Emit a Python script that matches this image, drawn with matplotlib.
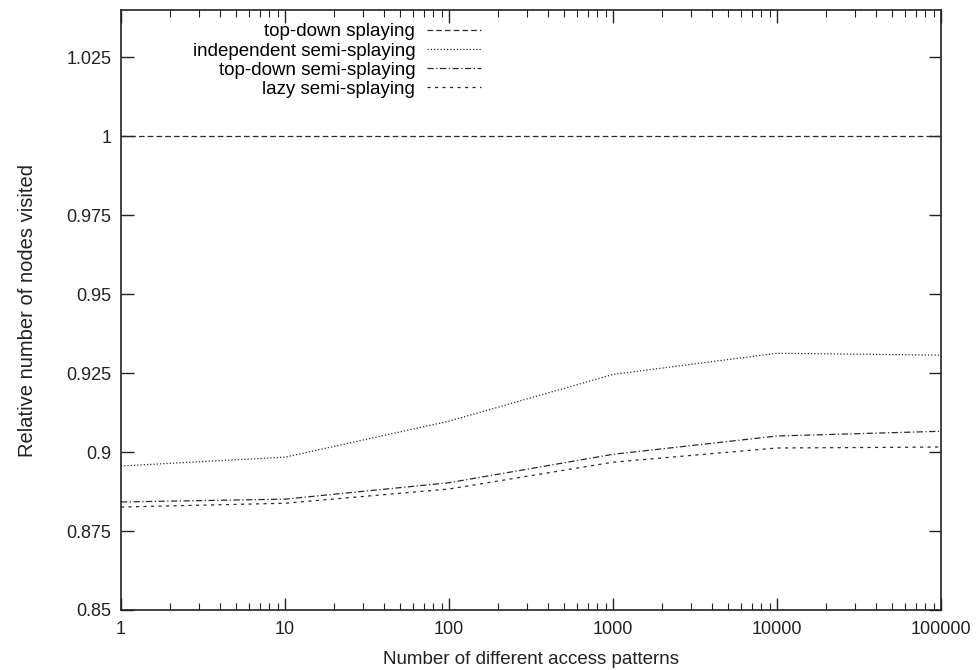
import matplotlib

matplotlib.use("Agg")
import matplotlib.pyplot as plt
from matplotlib.ticker import FixedLocator, LogLocator, NullFormatter

# Number of different access patterns (log axis)
patterns = [1, 10, 100, 1000, 10000, 100000]

# Nodes visited, relative to top-down splaying
top_down_splaying = [1.0, 1.0, 1.0, 1.0, 1.0, 1.0]
independent_semi = [0.8956, 0.8984, 0.9098, 0.9246, 0.9313, 0.9307]
top_down_semi = [0.8842, 0.8851, 0.8903, 0.8993, 0.9051, 0.9066]
lazy_semi = [0.8826, 0.8838, 0.8883, 0.8968, 0.9013, 0.9016]

y_ticks = [0.85, 0.875, 0.9, 0.925, 0.95, 0.975, 1.0, 1.025]
y_tick_labels = ["0.85", "0.875", "0.9", "0.925", "0.95", "0.975", "1", "1.025"]
x_tick_labels = ["1", "10", "100", "1000", "10000", "100000"]

plt.rcParams["font.family"] = ["Liberation Sans", "DejaVu Sans"]
plt.rcParams["font.size"] = 13.5

fig = plt.figure(figsize=(9.79, 6.70), dpi=100)
ax = fig.add_axes([0.1236, 0.0896, 0.8376, 0.8954])

line_color = "#2a2a2a"
ax.plot(patterns, top_down_splaying, color=line_color, lw=0.9,
        linestyle=(0, (4.5, 2.5)), label="top-down splaying")
ax.plot(patterns, independent_semi, color=line_color, lw=0.9,
        linestyle=(0, (1, 1.6)), label="independent semi-splaying")
ax.plot(patterns, top_down_semi, color=line_color, lw=0.9,
        linestyle=(0, (5, 2, 1, 2)), label="top-down semi-splaying")
ax.plot(patterns, lazy_semi, color=line_color, lw=0.9,
        linestyle=(0, (2.5, 3.5)), label="lazy semi-splaying")

ax.set_xscale("log")
ax.set_xlim(1, 100000)
ax.set_ylim(0.85, 1.04)

ax.xaxis.set_major_locator(FixedLocator(patterns))
ax.set_xticklabels(x_tick_labels)
ax.xaxis.set_minor_locator(LogLocator(base=10, subs=range(2, 10)))
ax.xaxis.set_minor_formatter(NullFormatter())
ax.set_yticks(y_ticks)
ax.set_yticklabels(y_tick_labels)

ax.tick_params(which="both", direction="in", top=True, right=True,
               color="#222222", labelcolor="#222222", labelsize=13)
ax.tick_params(which="major", length=9, width=1)
ax.tick_params(axis="y", which="major", pad=7)
ax.tick_params(axis="x", which="major", pad=8)
ax.tick_params(which="minor", length=5, width=0.8)
for spine in ax.spines.values():
    spine.set_linewidth(1.2)
    spine.set_color("#222222")

ax.set_xlabel("Number of different access patterns", color="#222222", labelpad=9)
ax.set_ylabel("Relative number of nodes visited", color="#222222",
              fontsize=14.5, labelpad=21)

ax.legend(loc="upper right", bbox_to_anchor=(0.439, 0.978), frameon=False,
          markerfirst=False, handlelength=2.9, handletextpad=0.6,
          labelspacing=0.11, borderaxespad=0.0, borderpad=0.0)

fig.savefig("out.png", dpi=100)
